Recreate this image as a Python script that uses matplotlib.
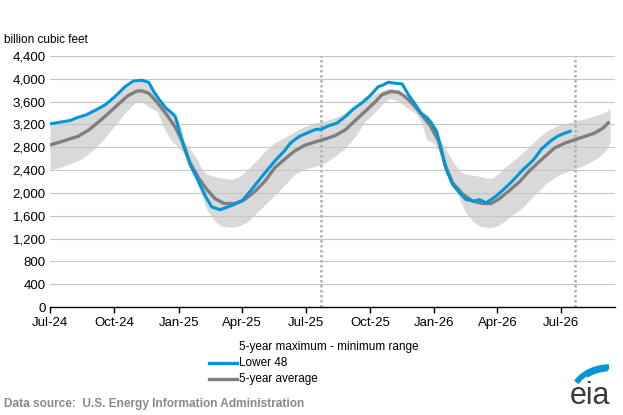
import matplotlib
matplotlib.use('Agg')
import matplotlib.pyplot as plt
import pandas as pd
from matplotlib.patches import Arc

plt.rcParams['font.family'] = ['Liberation Sans', 'DejaVu Sans']

# ---------------- data ----------------
lower48_dates = [
    '2024-07-01', '2024-07-13', '2024-07-30', '2024-08-10', '2024-08-22', '2024-09-03',
    '2024-09-18', '2024-10-02', '2024-10-16', '2024-10-28', '2024-11-09', '2024-11-19',
    '2024-11-26', '2024-12-05', '2024-12-13', '2024-12-22', '2024-12-27', '2025-01-05',
    '2025-01-17', '2025-01-29', '2025-02-08', '2025-02-17', '2025-03-01', '2025-03-17',
    '2025-04-01', '2025-04-15', '2025-05-04', '2025-05-18', '2025-06-01', '2025-06-10',
    '2025-06-22', '2025-07-05', '2025-07-15', '2025-07-24', '2025-08-03', '2025-08-15',
    '2025-08-27', '2025-09-07', '2025-09-19', '2025-10-01', '2025-10-13', '2025-10-20',
    '2025-10-27', '2025-11-06', '2025-11-16', '2025-11-25', '2025-12-05', '2025-12-13',
    '2025-12-21', '2025-12-26', '2026-01-04', '2026-01-11', '2026-01-18', '2026-01-27',
    '2026-02-06', '2026-02-15', '2026-02-27', '2026-03-06', '2026-03-16', '2026-03-30',
    '2026-04-09', '2026-04-23', '2026-05-07', '2026-05-22', '2026-06-03', '2026-06-17',
    '2026-06-26', '2026-07-06', '2026-07-16']
lower48_values = [
    3210, 3235, 3270, 3325, 3370, 3445,
    3545, 3690, 3860, 3960, 3975, 3940,
    3780, 3620, 3495, 3400, 3340, 2940,
    2500, 2206, 1942, 1755, 1705, 1778,
    1855, 2060, 2352, 2557, 2740, 2880,
    2990, 3060, 3110, 3119, 3177, 3224,
    3340, 3468, 3573, 3700, 3864, 3893,
    3940, 3922, 3911, 3719, 3544, 3400,
    3320, 3250, 3085, 2762, 2411, 2148,
    2001, 1884, 1855, 1884, 1825, 1942,
    2050, 2215, 2400, 2570, 2770, 2920,
    2995, 3045, 3090]

avg_dates = [
    '2024-07-01', '2024-07-18', '2024-08-10', '2024-08-25', '2024-09-08', '2024-09-22',
    '2024-10-07', '2024-10-21', '2024-11-02', '2024-11-09', '2024-11-19', '2024-11-28',
    '2024-12-13', '2024-12-27', '2025-01-05', '2025-01-17', '2025-01-29', '2025-02-10',
    '2025-02-22', '2025-03-07', '2025-03-22', '2025-04-05', '2025-04-20', '2025-05-04',
    '2025-05-18', '2025-06-02', '2025-06-16', '2025-06-30', '2025-07-15', '2025-07-29',
    '2025-08-12', '2025-08-27', '2025-09-10', '2025-09-24', '2025-10-09', '2025-10-18',
    '2025-10-30', '2025-11-11', '2025-11-20', '2025-12-02', '2025-12-14', '2025-12-26',
    '2026-01-07', '2026-01-16', '2026-01-27', '2026-02-11', '2026-02-25', '2026-03-11',
    '2026-03-23', '2026-04-04', '2026-04-18', '2026-05-03', '2026-05-17', '2026-05-31',
    '2026-06-10', '2026-06-22', '2026-07-06', '2026-07-20', '2026-08-04', '2026-08-18',
    '2026-08-30', '2026-09-08']
avg_values = [
    2840, 2903, 2991, 3100, 3240, 3390,
    3560, 3710, 3785, 3789, 3748, 3631,
    3400, 3150, 2930, 2528, 2265, 2060,
    1896, 1814, 1814, 1884, 2030, 2206,
    2440, 2600, 2740, 2835, 2895, 2944,
    3003, 3107, 3270, 3428, 3602, 3719,
    3777, 3765, 3690, 3544, 3369, 3180,
    2910, 2499, 2177, 1972, 1855, 1814,
    1814, 1900, 2040, 2200, 2390, 2550,
    2662, 2790, 2870, 2930, 2991, 3049,
    3136, 3250]

range_dates = [
    '2024-07-01', '2024-07-15', '2024-08-01', '2024-08-15', '2024-09-01', '2024-09-15',
    '2024-10-01', '2024-10-15', '2024-11-01', '2024-11-10', '2024-11-20', '2024-12-01',
    '2024-12-13', '2024-12-22', '2025-01-01', '2025-01-10', '2025-01-20', '2025-01-27',
    '2025-02-03', '2025-02-10', '2025-02-22', '2025-03-03', '2025-03-18', '2025-03-30',
    '2025-04-10', '2025-04-22', '2025-05-04', '2025-05-18', '2025-06-02', '2025-06-16',
    '2025-06-30', '2025-07-15', '2025-07-29', '2025-08-12', '2025-08-27', '2025-09-10',
    '2025-09-24', '2025-10-09', '2025-10-20', '2025-10-30', '2025-11-11', '2025-11-20',
    '2025-12-05', '2025-12-14', '2025-12-21', '2025-12-31', '2026-01-09', '2026-01-18',
    '2026-01-27', '2026-02-06', '2026-02-15', '2026-02-25', '2026-03-07', '2026-03-16',
    '2026-03-25', '2026-04-04', '2026-04-13', '2026-04-23', '2026-05-07', '2026-05-22',
    '2026-06-10', '2026-06-27', '2026-07-11', '2026-07-25', '2026-08-08', '2026-08-23',
    '2026-09-03', '2026-09-09']
range_max = [
    3195, 3220, 3260, 3330, 3430, 3520,
    3670, 3840, 3950, 3960, 3920, 3660,
    3480, 3380, 3250, 2880, 2720, 2590,
    2410, 2330, 2280, 2260, 2235, 2300,
    2420, 2570, 2733, 2880, 2980, 3078,
    3166, 3230, 3260, 3320, 3410, 3520,
    3630, 3740, 3800, 3835, 3806, 3640,
    3470, 3410, 3380, 3250, 2950, 2750,
    2560, 2382, 2330, 2310, 2290, 2260,
    2260, 2360, 2460, 2560, 2700, 2880,
    3080, 3190, 3224, 3270, 3311, 3369,
    3420, 3480]
range_min = [
    2400, 2450, 2520, 2590, 2760, 2930,
    3170, 3390, 3600, 3590, 3500, 3430,
    3080, 2900, 2800, 2650, 2380, 2170,
    1940, 1710, 1500, 1415, 1398, 1427,
    1503, 1650, 1796, 1960, 2150, 2330,
    2420, 2467, 2525, 2642, 2787, 2991,
    3253, 3428, 3573, 3660, 3602, 3515,
    3398, 3224, 2933, 2874, 2704, 2470,
    2206, 1884, 1650, 1503, 1415, 1398,
    1395, 1440, 1520, 1620, 1740, 1940,
    2170, 2310, 2380, 2440, 2510, 2620,
    2750, 2880]

marker_dates = ['2025-07-23', '2026-07-21']
tick_dates = ['2024-07-01', '2024-10-01', '2025-01-01', '2025-04-01', '2025-07-01',
              '2025-10-01', '2026-01-01', '2026-04-01', '2026-07-01']
tick_labels = ['Jul-24', 'Oct-24', 'Jan-25', 'Apr-25', 'Jul-25',
               'Oct-25', 'Jan-26', 'Apr-26', 'Jul-26']
y_ticks = [0, 400, 800, 1200, 1600, 2000, 2400, 2800, 3200, 3600, 4000, 4400]
x_limits = ['2024-07-01', '2026-09-16']

# ---------------- styles ----------------
BLUE = '#0096d7'
GRAY = '#7f7f7f'
RANGE = '#d9d9d9'
W, H = 623, 415

fig = plt.figure(figsize=(W / 100, H / 100), dpi=100)
ax = fig.add_axes([50 / W, 1 - 307 / H, 565 / W, 251 / H])

ax.fill_between(pd.to_datetime(range_dates), range_min, range_max,
                color=RANGE, lw=0, zorder=1)
for d in marker_dates:
    ax.axvline(pd.Timestamp(d), color='#b0b0b0', lw=1.8, ls=(0, (1, 1)), zorder=1.6)
ax.plot(pd.to_datetime(avg_dates), avg_values, color=GRAY, lw=2.4, zorder=3,
        solid_capstyle='butt')
ax.plot(pd.to_datetime(lower48_dates), lower48_values, color=BLUE, lw=2.2, zorder=4,
        solid_capstyle='butt')

ax.set_ylim(0, 4400)
ax.set_xlim(pd.Timestamp(x_limits[0]), pd.Timestamp(x_limits[1]))
ax.set_yticks(y_ticks)
ax.set_yticklabels([f'{v:,}' for v in y_ticks])
ax.set_xticks(pd.to_datetime(tick_dates))
ax.set_xticklabels(tick_labels)

ax.set_axisbelow('line')
ax.yaxis.grid(True, color='#c6c6c6', lw=0.8)
for s in ['top', 'right', 'left']:
    ax.spines[s].set_visible(False)
ax.spines['bottom'].set_color('black')
ax.spines['bottom'].set_linewidth(1.0)
ax.spines['bottom'].set_zorder(5)
ax.tick_params(axis='y', length=0, pad=3, labelsize=9.5, labelcolor='black')
ax.tick_params(axis='x', length=4, width=1, direction='out', pad=3,
               labelsize=9.5, labelcolor='black')

# y unit label
fig.text(4 / W, 1 - 40 / H, 'billion cubic feet', fontsize=8.5, va='center', ha='left')

# legend (manual, as in the reference)
fig.text(239 / W, 1 - 346.5 / H, '5-year maximum - minimum range', fontsize=8.5,
         va='center', ha='left')
fig.text(239 / W, 1 - 362.5 / H, 'Lower 48', fontsize=8.5, va='center', ha='left')
fig.text(239 / W, 1 - 379 / H, '5-year average', fontsize=8.5, va='center', ha='left')
fig.add_artist(plt.Line2D([209 / W, 237 / W], [1 - 362.5 / H, 1 - 362.5 / H],
                          color=BLUE, lw=2.4, transform=fig.transFigure))
fig.add_artist(plt.Line2D([209 / W, 237 / W], [1 - 379 / H, 1 - 379 / H],
                          color=GRAY, lw=2.4, transform=fig.transFigure))

# source
fig.text(4 / W, 1 - 404 / H, 'Data source:  U.S. Energy Information Administration',
         fontsize=8.6, fontweight='bold', color='#8a8a8a', va='center', ha='left')

# eia logo
fig.text(590 / W, 1 - 396 / H, 'eia', fontsize=22, color='#3c3c3c',
         va='center', ha='center')
logo_ax = fig.add_axes([560 / W, 1 - 400 / H, 63 / W, 40 / H])
logo_ax.set_xlim(0, 63)
logo_ax.set_ylim(0, 40)
logo_ax.axis('off')
logo_ax.add_patch(Arc((50, 4), 76, 58, theta1=92, theta2=158, color=BLUE, lw=4))
logo_ax.add_patch(Arc((50, 4), 70, 52, theta1=95, theta2=140, color=BLUE, lw=2))

fig.savefig('out.png', dpi=100)
